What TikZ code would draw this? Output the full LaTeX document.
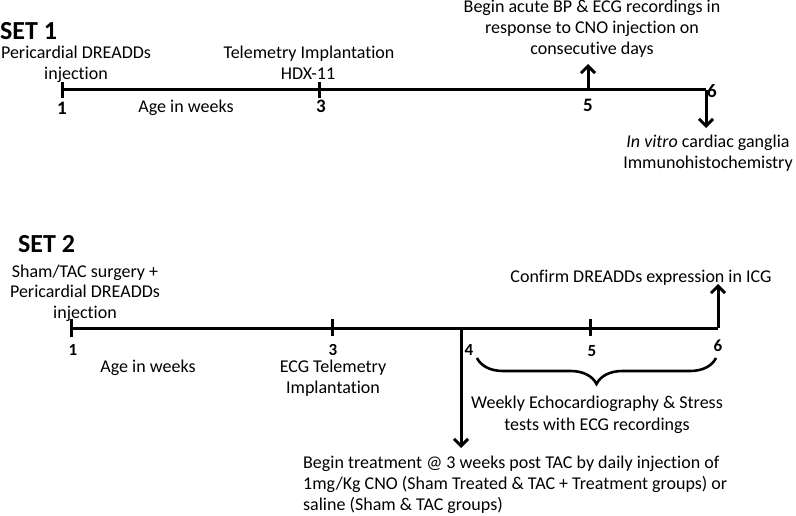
\documentclass[tikz,border=0pt]{standalone}
\usepackage{fontspec}
\setmainfont[Ligatures=NoCommon]{Carlito}
\usetikzlibrary{arrows.meta,decorations.pathreplacing}
\begin{document}
\begin{tikzpicture}[x=1pt,y=-1pt,
  txt/.style={font=\fontsize{18}{21}\selectfont, inner sep=0pt, anchor=base, align=center},
  num/.style={font=\fontsize{17}{21}\selectfont\bfseries, inner sep=0pt, anchor=base},
  numb/.style={font=\fontsize{19}{21}\selectfont\bfseries, inner sep=0pt, anchor=base},
  title/.style={font=\fontsize{26}{30}\selectfont\bfseries, inner sep=0pt, anchor=base west},
  axis/.style={line width=3pt},
  tick/.style={line width=3pt},
  arr/.style={line width=3pt, -{Straight Barb[length=7pt,width=14pt,line width=3pt]}},
  brc/.style={line width=2.6pt, decorate, decoration={brace, mirror, amplitude=26pt}}
]
\useasboundingbox (0,0) rectangle (796,516);
% ---------- SET 1 ----------
\node[title] (s1) at (0,40) {SET 1};
\coordinate (a1) at (62,90);
\coordinate (a3) at (319,90);
\coordinate (a5) at (588,90);
\coordinate (a6) at (706,90);
\draw[axis] (a1) -- (a6);
\draw[tick] ([yshift=-8]a1) -- ([yshift=8]a1);
\draw[tick] ([yshift=-8]a3) -- ([yshift=8]a3);
\draw[tick] ([yshift=6]a5) -- (a5);
\coordinate (t5) at (588,64);
\draw[arr] (a5) -- (t5);
\coordinate (b6) at (706,128);
\draw[tick] ([yshift=-8]a6) -- (a6);
\draw[arr] (a6) -- (b6);
\node[numb] (n11) at (62,115) {1};
\node[numb] (n13) at (321,113) {3};
\node[numb] (n15) at (588,112) {5};
\node[numb] (n16) at (712,98) {6};
\node[txt] (age1) at (186,113) {Age in weeks};
\node[txt] (p1a) at (76,59) {Pericardial DREADDs};
\node[txt] (p1b) at (76,80) {injection};
\node[txt] (tel1a) at (309,59) {Telemetry Implantation};
\node[txt] (tel1b) at (308,80) {HDX-11};
\node[txt] (ba) at (592,13) {Begin acute BP \& ECG recordings in};
\node[txt] (bb) at (592,34) {response to CNO injection on};
\node[txt] (bc) at (592,55) {consecutive days};
\node[txt] (iv) at (708,148) {\itshape In vitro\upshape{} cardiac ganglia};
\node[txt] (ih) at (708,169) {Immunohistochemistry};
% ---------- SET 2 ----------
\node[title] (s2) at (18,252) {SET 2};
\coordinate (c1) at (71,328);
\coordinate (c3) at (332,328);
\coordinate (c4) at (461,328);
\coordinate (c5) at (590,328);
\coordinate (c6) at (718,328);
\draw[axis] (c1) -- (c6);
\draw[tick] ([yshift=-9]c1) -- ([yshift=9]c1);
\draw[tick] ([yshift=-8]c3) -- ([yshift=9]c3);
\draw[tick] ([yshift=-8]c5) -- ([yshift=9]c5);
\coordinate (u6) at (718,284);
\draw[tick] ([yshift=7]c6) -- (c6);
\draw[arr] (c6) -- (u6);
\coordinate (d4) at (461,448);
\draw[tick] ([yshift=-18]c4) -- (c4);
\draw[arr] (c4) -- (d4);
\node[num] (n21) at (73,355) {1};
\node[num] (n23) at (333,355) {3};
\node[num] (n24) at (469,355) {4};
\node[num] (n25) at (592,356) {5};
\node[num] (n26) at (718,351) {6};
\node[txt] (age2) at (148,372) {Age in weeks};
\node[txt] (e1) at (333,372) {ECG Telemetry};
\node[txt] (e2) at (333,393) {Implantation};
\node[txt] (sh1) at (85,277) {Sham/TAC surgery +};
\node[txt] (sh2) at (85,298) {Pericardial DREADDs};
\node[txt] (sh3) at (85,318) {injection};
\node[txt] (cf) at (641,283) {Confirm DREADDs expression in ICG};
\coordinate (brL) at (477,358);
\coordinate (brR) at (716,358);
\draw[brc] (brL) -- (brR);
\node[txt] (w1) at (597,408) {Weekly Echocardiography \& Stress};
\node[txt] (w2) at (597,430) {tests with ECG recordings};
\node[txt, anchor=base west] (bt1) at (303,468) {Begin treatment @ 3 weeks post TAC by daily injection of};
\node[txt, anchor=base west] (bt2) at (303,489) {1mg/Kg CNO (Sham Treated \& TAC + Treatment groups) or};
\node[txt, anchor=base west] (bt3) at (303,510) {saline (Sham \& TAC groups)};
\end{tikzpicture}
\end{document}
